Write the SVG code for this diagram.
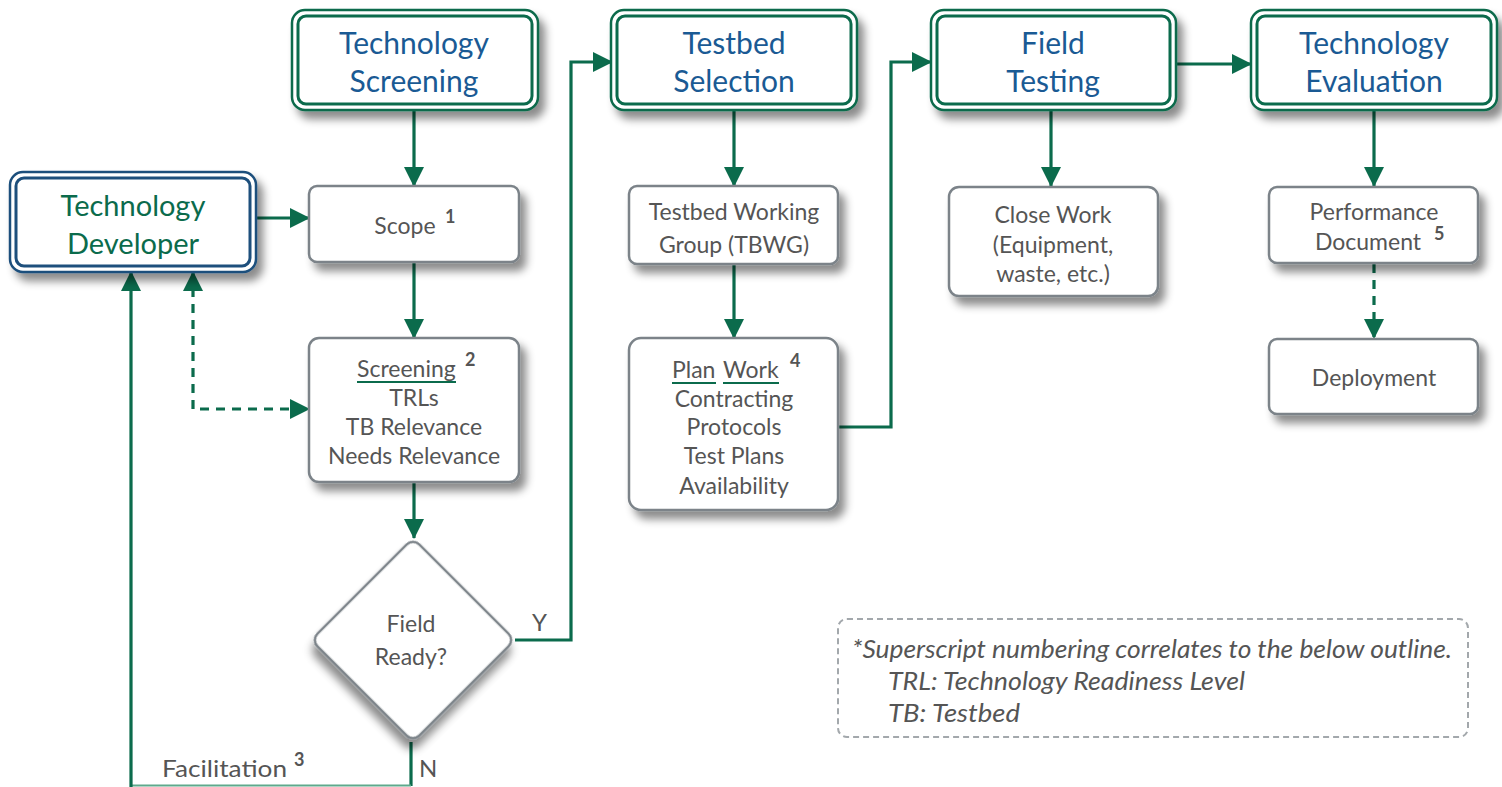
<svg xmlns="http://www.w3.org/2000/svg" width="1502" height="787" viewBox="0 0 1502 787">
  <defs>
    <style>
      .hdr-o { fill: #ffffff; stroke: #0b6b4c; stroke-width: 2.5; }
      .hdr-i { fill: none; stroke: #0b6b4c; stroke-width: 3; }
      .dev-o { fill: #ffffff; stroke: #1d4f7c; stroke-width: 2.5; }
      .dev-i { fill: none; stroke: #1d4f7c; stroke-width: 3; }
      .box { fill: #ffffff; stroke: #7b8389; stroke-width: 2.5; }
      .t-hdr { font-family: Lato, "Open Sans", sans-serif; font-size: 30px; fill: #1a5a94; text-anchor: middle; }
      .t-dev { font-family: Lato, "Open Sans", sans-serif; font-size: 29px; fill: #0b6b4c; text-anchor: middle; }
      .t-body { font-family: Lato, "Open Sans", sans-serif; font-size: 23px; fill: #555555; text-anchor: middle; }
      .t-start { text-anchor: start; }
      .t-sup { font-family: Lato, "Open Sans", sans-serif; font-size: 18px; font-weight: bold; fill: #555555; }
      .t-lbl { font-family: Lato, "Open Sans", sans-serif; font-size: 24px; fill: #555555; }
      .t-note { font-family: Lato, "Open Sans", sans-serif; font-size: 25px; font-style: italic; fill: #555555; }
      .ul { stroke: #0b6b4c; stroke-width: 1.8; }
      .link { fill: none; stroke: #0b6b4c; stroke-width: 3.2; }
      .dash { fill: none; stroke: #0b6b4c; stroke-width: 3.2; stroke-dasharray: 9 7; }
    </style>
    <filter id="shadow" x="-20%" y="-20%" width="150%" height="160%">
      <feDropShadow dx="6" dy="8" stdDeviation="4.5" flood-color="#000000" flood-opacity="0.45"/>
    </filter>
    <marker id="arrow" viewBox="0 0 20 20" refX="19" refY="10" markerWidth="20" markerHeight="20" markerUnits="userSpaceOnUse" orient="auto-start-reverse">
      <path d="M0,0 L20,10 L0,20 Z" fill="#0b6b4c"/>
    </marker>
  </defs>

  <rect width="1502" height="787" fill="#ffffff"/>

  <!-- connectors -->
  <g id="connectors">
    <line class="link" x1="414" y1="110" x2="414" y2="186" marker-end="url(#arrow)"/>
    <line class="link" x1="256" y1="218" x2="309" y2="218" marker-end="url(#arrow)"/>
    <line class="link" x1="414" y1="262" x2="414" y2="338" marker-end="url(#arrow)"/>
    <line class="link" x1="414" y1="482" x2="414" y2="538" marker-end="url(#arrow)"/>
    <path class="dash" d="M193,272 L193,409 L309,409" marker-start="url(#arrow)" marker-end="url(#arrow)"/>
    <path class="link" d="M411,742 L411,786"/>
    <path d="M411,785.5 L131,785.5" fill="none" stroke="#5fa98c" stroke-width="2"/>
    <path class="link" d="M131,787 L131,272" marker-end="url(#arrow)"/>
    <path class="link" d="M515,640 L571,640 L571,62 L612,62" marker-end="url(#arrow)"/>
    <line class="link" x1="734" y1="110" x2="734" y2="186" marker-end="url(#arrow)"/>
    <line class="link" x1="734" y1="264" x2="734" y2="338" marker-end="url(#arrow)"/>
    <path class="link" d="M838,427 L891,427 L891,62 L931,62" marker-end="url(#arrow)"/>
    <line class="link" x1="1051" y1="110" x2="1051" y2="186" marker-end="url(#arrow)"/>
    <line class="link" x1="1176" y1="64" x2="1251" y2="64" marker-end="url(#arrow)"/>
    <line class="link" x1="1374" y1="110" x2="1374" y2="186" marker-end="url(#arrow)"/>
    <line class="dash" x1="1374" y1="264" x2="1374" y2="338" marker-end="url(#arrow)"/>
    <text class="t-lbl" x="532" y="631">Y</text>
    <text class="t-lbl" x="419" y="777">N</text>
    <text class="t-body t-start" x="162" y="777" style="font-size:24px" textLength="125" lengthAdjust="spacingAndGlyphs">Facilitation</text>
    <text class="t-sup" x="294" y="766">3</text>
  </g>

  <!-- header stages -->
  <g id="tech-screening">
    <rect class="hdr-o" x="292" y="10" width="246" height="100" rx="13" filter="url(#shadow)"/>
    <rect class="hdr-i" x="298" y="16" width="234" height="88" rx="8"/>
    <text class="t-hdr" x="414" y="54">Technology</text>
    <text class="t-hdr" x="414" y="92">Screening</text>
  </g>
  <g id="testbed-selection">
    <rect class="hdr-o" x="611" y="10" width="246" height="100" rx="13" filter="url(#shadow)"/>
    <rect class="hdr-i" x="617" y="16" width="234" height="88" rx="8"/>
    <text class="t-hdr" x="734" y="54">Testbed</text>
    <text class="t-hdr" x="734" y="92">Selection</text>
  </g>
  <g id="field-testing">
    <rect class="hdr-o" x="931" y="10" width="245" height="100" rx="13" filter="url(#shadow)"/>
    <rect class="hdr-i" x="937" y="16" width="233" height="88" rx="8"/>
    <text class="t-hdr" x="1053" y="54">Field</text>
    <text class="t-hdr" x="1053" y="92">Testing</text>
  </g>
  <g id="tech-evaluation">
    <rect class="hdr-o" x="1251" y="10" width="246" height="100" rx="13" filter="url(#shadow)"/>
    <rect class="hdr-i" x="1257" y="16" width="234" height="88" rx="8"/>
    <text class="t-hdr" x="1374" y="54">Technology</text>
    <text class="t-hdr" x="1374" y="92">Evaluation</text>
  </g>

  <g id="tech-developer">
    <rect class="dev-o" x="10" y="172" width="246" height="100" rx="13" filter="url(#shadow)"/>
    <rect class="dev-i" x="16" y="178" width="234" height="88" rx="8"/>
    <text class="t-dev" x="133" y="216">Technology</text>
    <text class="t-dev" x="133" y="254">Developer</text>
  </g>

  <!-- process boxes -->
  <g id="scope">
    <rect class="box" x="309" y="186" width="210" height="76" rx="8" filter="url(#shadow)"/>
    <text class="t-body" x="405" y="234">Scope</text>
    <text class="t-sup" x="445" y="223">1</text>
  </g>
  <g id="screening">
    <rect class="box" x="309" y="338" width="210" height="144" rx="10" filter="url(#shadow)"/>
    <text class="t-body t-start" x="357" y="377">Screening</text>
    <line class="ul" x1="357" y1="382" x2="456" y2="382"/>
    <text class="t-sup" x="465" y="366">2</text>
    <text class="t-body" x="414" y="406">TRLs</text>
    <text class="t-body" x="414" y="435">TB Relevance</text>
    <text class="t-body" x="414" y="464">Needs Relevance</text>
  </g>
  <g id="field-ready">
    <rect class="box" x="341" y="568" width="144" height="144" rx="9" transform="rotate(45 413 640)" filter="url(#shadow)"/>
    <text class="t-body" x="411" y="632">Field</text>
    <text class="t-body" x="411" y="665">Ready?</text>
  </g>
  <g id="tbwg">
    <rect class="box" x="629" y="186" width="209" height="78" rx="8" filter="url(#shadow)"/>
    <text class="t-body" x="734" y="220">Testbed Working</text>
    <text class="t-body" x="734" y="253">Group (TBWG)</text>
  </g>
  <g id="plan-work">
    <rect class="box" x="629" y="338" width="209" height="172" rx="12" filter="url(#shadow)"/>
    <text class="t-body t-start" x="672" y="378">Plan</text>
    <line class="ul" x1="672" y1="383" x2="716" y2="383"/>
    <text class="t-body t-start" x="723" y="378">Work</text>
    <line class="ul" x1="723" y1="383" x2="779" y2="383"/>
    <text class="t-sup" x="790" y="367">4</text>
    <text class="t-body" x="734" y="407">Contracting</text>
    <text class="t-body" x="734" y="435">Protocols</text>
    <text class="t-body" x="734" y="464">Test Plans</text>
    <text class="t-body" x="734" y="494">Availability</text>
  </g>
  <g id="close-work">
    <rect class="box" x="949" y="187" width="209" height="109" rx="10" filter="url(#shadow)"/>
    <text class="t-body" x="1053" y="223">Close Work</text>
    <text class="t-body" x="1053" y="253">(Equipment,</text>
    <text class="t-body" x="1053" y="282">waste, etc.)</text>
  </g>
  <g id="performance-doc">
    <rect class="box" x="1269" y="187" width="209" height="76" rx="8" filter="url(#shadow)"/>
    <text class="t-body" x="1374" y="220">Performance</text>
    <text class="t-body" x="1368" y="250">Document</text>
    <text class="t-sup" x="1434" y="240">5</text>
  </g>
  <g id="deployment">
    <rect class="box" x="1269" y="339" width="209" height="75" rx="8" filter="url(#shadow)"/>
    <text class="t-body" x="1374" y="386">Deployment</text>
  </g>

  <!-- footnote -->
  <g id="note">
    <rect x="838" y="619" width="630" height="118" rx="9" fill="none" stroke="#a3a8ac" stroke-width="2" stroke-dasharray="6 4"/>
    <text class="t-note" x="852" y="658" textLength="600" lengthAdjust="spacingAndGlyphs">*Superscript numbering correlates to the below outline.</text>
    <text class="t-note" x="888" y="690" textLength="357" lengthAdjust="spacingAndGlyphs">TRL: Technology Readiness Level</text>
    <text class="t-note" x="888" y="722" textLength="132" lengthAdjust="spacingAndGlyphs">TB: Testbed</text>
  </g>
</svg>
